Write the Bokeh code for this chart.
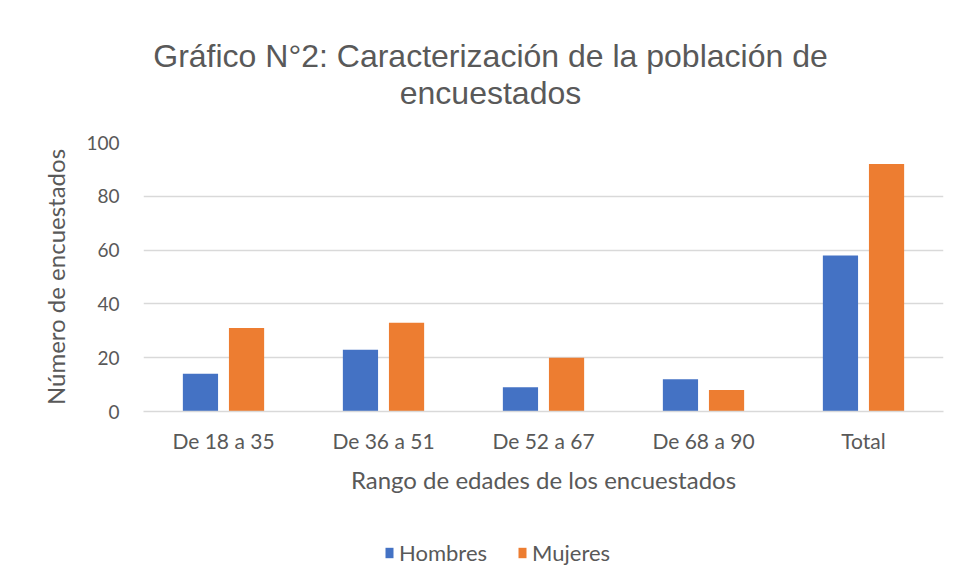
from bokeh.plotting import figure
from bokeh.layouts import column
from bokeh.models import ColumnDataSource, FactorRange, Legend, LegendItem, Range1d, Label
from bokeh.transform import dodge
from bokeh.embed import file_html
from bokeh.resources import INLINE

categories = ["De 18 a 35", "De 36 a 51", "De 52 a 67", "De 68 a 90", "Total"]
hombres = [14, 23, 9, 12, 58]
mujeres = [31, 33, 20, 8, 92]
y_ticks = [0, 20, 40, 60, 80, 100]
title_lines = ["Gráfico N°2: Caracterización de la población de", "encuestados"]
series_names = ["Hombres", "Mujeres"]
series_colors = ["#4472C4", "#ED7D31"]

src = ColumnDataSource(dict(cat=categories, hombres=hombres, mujeres=mujeres))

TEXT = "#595959"
FONT = "Lato"
W = 950
ML, MR = 143, 7

# title strip (pixel-mapped ranges)
p0 = figure(width=W, height=120, output_backend="svg", toolbar_location=None,
            x_range=Range1d(ML, W - MR), y_range=Range1d(120, 0),
            min_border_left=ML, min_border_right=MR, min_border_top=0, min_border_bottom=0)
p0.axis.visible = False
p0.grid.visible = False
p0.outline_line_color = None
p0.border_fill_color = "white"
p0.background_fill_color = "white"
for line, ypos in zip(title_lines, [55, 92]):
    p0.add_layout(Label(x=490, y=ypos, text=line, text_align="center", text_baseline="middle",
                        text_font="Liberation Sans", text_font_size="32px", text_color=TEXT))

p = figure(width=W, height=402, x_range=FactorRange(*categories), y_range=Range1d(0, 100),
           output_backend="svg", toolbar_location=None, title=None,
           min_border_left=ML, min_border_right=MR, min_border_top=22, min_border_bottom=111)
p.outline_line_color = None
p.background_fill_color = "white"
p.border_fill_color = "white"

b1 = p.vbar(x=dodge("cat", -0.144, range=p.x_range), top="hombres", width=0.22, source=src,
            fill_color=series_colors[0], line_color=None)
b2 = p.vbar(x=dodge("cat", 0.144, range=p.x_range), top="mujeres", width=0.22, source=src,
            fill_color=series_colors[1], line_color=None)

p.xgrid.grid_line_color = None
p.ygrid.grid_line_color = "#d9d9d9"
p.ygrid.grid_line_width = 1.5
p.yaxis.ticker = y_ticks
p.yaxis.axis_line_color = None
p.yaxis.major_tick_line_color = None
p.yaxis.minor_tick_line_color = None
p.yaxis.major_label_text_font = FONT
p.yaxis.major_label_text_font_size = "19px"
p.yaxis.major_label_text_color = TEXT
p.yaxis.major_label_standoff = 18
p.yaxis.axis_label = "Número de encuestados"
p.yaxis.axis_label_text_font = FONT
p.yaxis.axis_label_text_font_size = "24px"
p.yaxis.axis_label_text_font_style = "normal"
p.yaxis.axis_label_text_color = TEXT
p.yaxis.axis_label_standoff = 13

p.xaxis.axis_line_color = "#d9d9d9"
p.xaxis.axis_line_width = 1.5
p.xaxis.major_tick_line_color = None
p.xaxis.minor_tick_line_color = None
p.xaxis.major_label_text_font = FONT
p.xaxis.major_label_text_font_size = "21px"
p.xaxis.major_label_text_color = TEXT
p.xaxis.major_label_standoff = 10
p.xaxis.axis_label = "Rango de edades de los encuestados"
p.xaxis.axis_label_text_font = FONT
p.xaxis.axis_label_text_font_size = "24px"
p.xaxis.axis_label_text_font_style = "normal"
p.xaxis.axis_label_text_color = TEXT
p.xaxis.axis_label_standoff = 9

# legend-only strip below the chart (zero-height proxy bars carry the legend swatches)
p2 = figure(width=W, height=58, output_backend="svg", toolbar_location=None,
            min_border_left=ML, min_border_right=MR, min_border_top=0, min_border_bottom=0,
            x_range=(0, 1), y_range=(0, 1))
p2.axis.visible = False
p2.grid.visible = False
p2.outline_line_color = None
p2.border_fill_color = "white"
items = []
for name, col in zip(series_names, series_colors):
    r = p2.vbar(x=[0], top=[0], bottom=[0], width=0, fill_color=col, line_color=None)
    items.append(LegendItem(label=name, renderers=[r]))
legend = Legend(items=items, orientation="horizontal", location=(241, 14))
legend.label_text_font = FONT
legend.label_text_font_size = "22px"
legend.label_text_color = TEXT
legend.glyph_width = 10
legend.glyph_height = 13
legend.label_standoff = 5
legend.spacing = 30
legend.padding = 4
legend.margin = 0
legend.border_line_color = None
legend.background_fill_alpha = 0
p2.add_layout(legend)

layout = column(p0, p, p2, spacing=0)
open("out.html", "w").write(file_html(layout, INLINE))
